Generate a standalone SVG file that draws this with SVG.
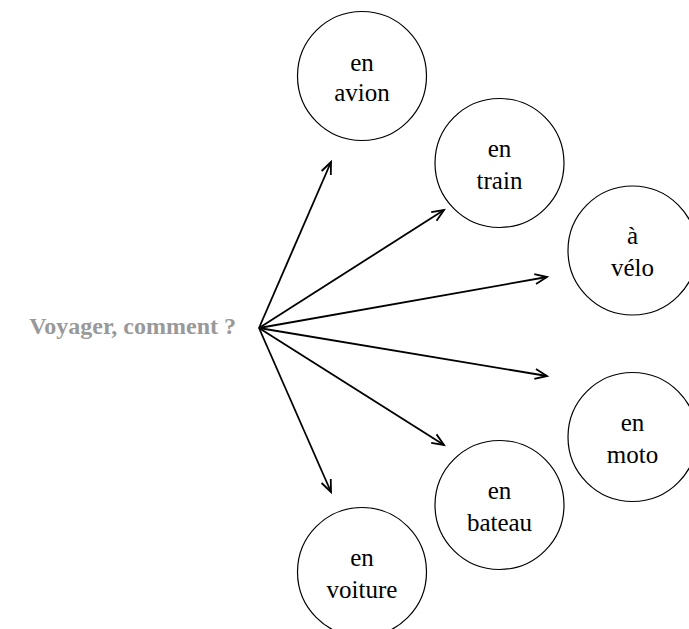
<svg xmlns="http://www.w3.org/2000/svg" width="689" height="629" viewBox="0 0 689 629">
<style>
.node circle{fill:#fff;stroke:#000;stroke-width:1.2}
.node text{font-family:"Liberation Serif","Times New Roman",serif;font-size:25px;fill:#000;text-anchor:middle}
.title{font-family:"Liberation Serif","Times New Roman",serif;font-size:24px;font-weight:bold;fill:#999;text-anchor:end}
.edge{stroke:#000;stroke-width:1.8;fill:none;marker-end:url(#arr)}
</style>
<defs>
<marker id="arr" markerUnits="userSpaceOnUse" markerWidth="16" markerHeight="14" refX="13" refY="6" orient="auto" viewBox="0 0 16 12">
<path d="M1,1 L13,6 L1,11" fill="none" stroke="#000" stroke-width="1.8"/>
</marker>
</defs>
<text class="title" x="236" y="334">Voyager, comment ?</text>
<g id="connectors">
<line class="edge" x1="259" y1="328" x2="331" y2="162"/>
<line class="edge" x1="259" y1="328" x2="444" y2="210"/>
<line class="edge" x1="259" y1="328" x2="547" y2="277"/>
<line class="edge" x1="259" y1="328" x2="547" y2="376"/>
<line class="edge" x1="259" y1="328" x2="444" y2="445"/>
<line class="edge" x1="259" y1="328" x2="331" y2="492"/>
</g>
<g id="avion" class="node"><circle cx="362" cy="76" r="64.5"/><text x="362" y="71">en</text><text x="362" y="101">avion</text></g>
<g id="train" class="node"><circle cx="499.5" cy="163" r="64.5"/><text x="499.5" y="157">en</text><text x="499.5" y="189">train</text></g>
<g id="velo" class="node"><circle cx="632.5" cy="250.5" r="64.5"/><text x="632.5" y="244">à</text><text x="632.5" y="276">vélo</text></g>
<g id="moto" class="node"><circle cx="632.5" cy="437" r="64.5"/><text x="632.5" y="431">en</text><text x="632.5" y="463">moto</text></g>
<g id="bateau" class="node"><circle cx="499.5" cy="505" r="64.5"/><text x="499.5" y="499">en</text><text x="499.5" y="531">bateau</text></g>
<g id="voiture" class="node"><circle cx="362" cy="572" r="64.5"/><text x="362" y="566">en</text><text x="362" y="598">voiture</text></g>
</svg>
